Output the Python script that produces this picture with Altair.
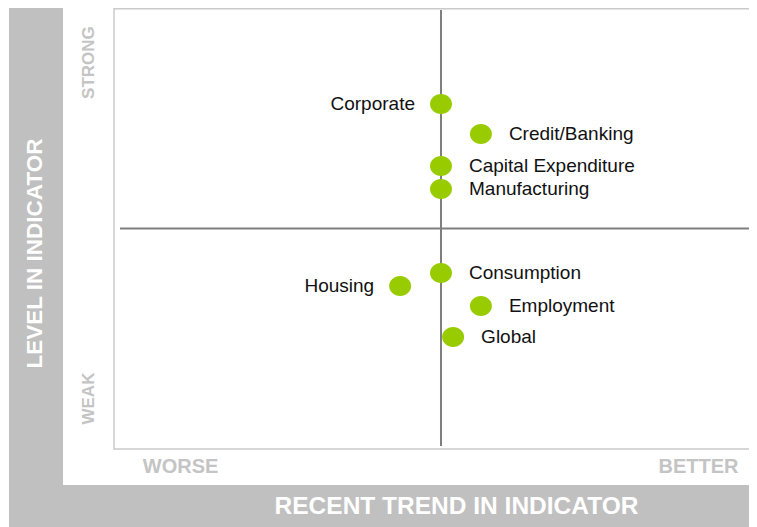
import altair as alt
import pandas as pd

# ---- data ----
names = ["Corporate", "Credit/Banking", "Capital Expenditure", "Manufacturing",
         "Consumption", "Housing", "Employment", "Global"]
trend = [0.0, 1.22, 0.0, 0.0, 0.0, -1.25, 1.22, 0.37]
level = [5.65, 4.29, 2.83, 1.79, -2.02, -2.61, -3.51, -4.92]
label_side = ["left", "right", "right", "right", "right", "left", "right", "right"]

x_tick_values = [-7.98, 7.86]
x_tick_labels = ["WORSE", "BETTER"]
y_tick_values = [7.55, -7.69]
y_tick_labels = ["STRONG", "WEAK"]
x_title = "RECENT TREND IN INDICATOR"
y_title = "LEVEL IN INDICATOR"

df = pd.DataFrame({"name": names, "trend": trend, "level": level, "side": label_side})
one = alt.Data(values=[{}])

FONT = "Liberation Sans"
GRAY = "#c0c0c0"
W, H = 635, 441

xscale = alt.Scale(domain=[-10, 9.419], nice=False, zero=False)
yscale = alt.Scale(domain=[-10, 10], nice=False, zero=False)

x_expr = f"datum.value < 0 ? '{x_tick_labels[0]}' : '{x_tick_labels[1]}'"
y_expr = f"datum.value > 0 ? '{y_tick_labels[0]}' : '{y_tick_labels[1]}'"

xaxis = alt.Axis(
    values=x_tick_values, labelExpr=x_expr, title=x_title, orient="bottom",
    domain=False, ticks=False, tickSize=0, grid=False, labelPadding=17,
    labelBaseline="middle", labelAlign="center", labelAngle=0, labelFlush=False,
    labelFont=FONT, labelFontSize=20, labelFontWeight="bold", labelColor="#c4c4c4",
    titleFont=FONT, titleFontSize=24.5, titleFontWeight="bold", titleColor="white",
    titleX=342, titleY=57, titleBaseline="middle", titleAlign="center", zindex=1,
)
yaxis = alt.Axis(
    values=y_tick_values, labelExpr=y_expr, title=y_title, orient="left",
    domain=False, ticks=False, tickSize=0, grid=False, labelPadding=26,
    labelBaseline="middle", labelAlign="center", labelAngle=270, labelFlush=False,
    labelFont=FONT, labelFontSize=17, labelFontWeight="bold", labelColor="#c4c4c4",
    titleFont=FONT, titleFontSize=22.5, titleFontWeight="bold", titleColor="white",
    titleAngle=270, titleX=-80, titleY=245, titleBaseline="middle", titleAlign="center",
    zindex=1,
)

left_band = alt.Chart(one).mark_rect(color=GRAY).encode(
    x=alt.value(-105), x2=alt.value(-51), y=alt.value(0), y2=alt.value(519))
bottom_band = alt.Chart(one).mark_rect(color=GRAY).encode(
    x=alt.value(-105), x2=alt.value(W + 10), y=alt.value(477), y2=alt.value(519))
frame = alt.Chart(one).mark_rect(fill="white", stroke="#cacaca", strokeWidth=1.5).encode(
    x=alt.value(0), x2=alt.value(W + 20), y=alt.value(0.75), y2=alt.value(H))

vline = alt.Chart(one).mark_rule(color="#7f7f7f", strokeWidth=2).encode(
    x=alt.XDatum(0, scale=xscale, axis=xaxis), y=alt.value(2), y2=alt.value(438))
hline = alt.Chart(one).mark_rule(color="#7f7f7f", strokeWidth=2).encode(
    y=alt.YDatum(0, scale=yscale, axis=yaxis), x=alt.value(6), x2=alt.value(W + 10))

ellipse = "M-1.1,0 A1.1,1 0 1,1 1.1,0 A1.1,1 0 1,1 -1.1,0 Z"
points = alt.Chart(df).mark_point(
    shape=ellipse, filled=True, fill="#99cc00", strokeWidth=0, opacity=1, size=400
).encode(
    x=alt.X("trend:Q", scale=xscale, axis=xaxis),
    y=alt.Y("level:Q", scale=yscale, axis=yaxis),
)

right_labels = alt.Chart(df).transform_filter(alt.datum.side == "right").mark_text(
    align="left", baseline="middle", dx=28, font=FONT, fontSize=19, color="#111111"
).encode(
    x=alt.X("trend:Q", scale=xscale, axis=xaxis),
    y=alt.Y("level:Q", scale=yscale, axis=yaxis),
    text="name:N",
)
left_labels = alt.Chart(df).transform_filter(alt.datum.side == "left").mark_text(
    align="right", baseline="middle", dx=-26, font=FONT, fontSize=19, color="#111111"
).encode(
    x=alt.X("trend:Q", scale=xscale, axis=xaxis),
    y=alt.Y("level:Q", scale=yscale, axis=yaxis),
    text="name:N",
)

chart = alt.layer(
    left_band, bottom_band, frame, vline, hline, points, right_labels, left_labels
).properties(
    width=W, height=H,
    autosize=alt.AutoSizeParams(type="none"),
    padding={"left": 106, "top": 0, "right": 0, "bottom": 78},
    background="white",
).configure_view(strokeWidth=0)

chart.save("out.html", embed_options={"renderer": "svg", "actions": False})
